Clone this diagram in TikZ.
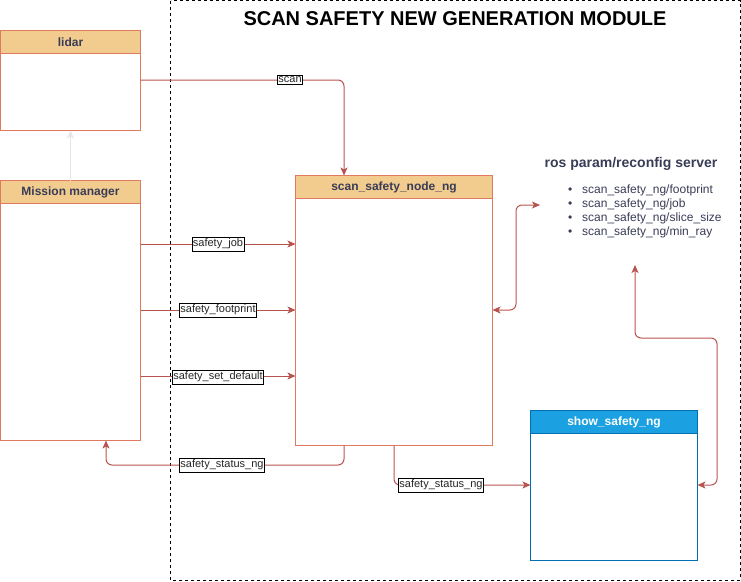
\documentclass[tikz,border=0pt]{standalone}
\usepackage{fontspec}
\setmainfont{Liberation Sans}
\usetikzlibrary{arrows.meta,calc}
\definecolor{hdrfill}{HTML}{F2CC8F}
\definecolor{hdrline}{HTML}{E07A5F}
\definecolor{hdrtext}{HTML}{393C56}
\definecolor{edgec}{HTML}{B85450}
\definecolor{bluefill}{HTML}{1BA1E2}
\definecolor{blueline}{HTML}{006EAF}
\definecolor{faint}{HTML}{E6E6E6}
\begin{document}
\begin{tikzpicture}[x=1pt,y=-1pt,
  body/.style={draw=hdrline, fill=white, line width=1pt, anchor=north west, inner sep=0pt, outer sep=0pt},
  hdr/.style={draw=hdrline, fill=hdrfill, line width=1pt, anchor=north west, inner sep=0pt, outer sep=0pt,
     minimum height=23pt, text=hdrtext, font=\fontsize{12}{14}\selectfont\bfseries},
  bluebody/.style={draw=blueline, fill=white, line width=1pt, anchor=north west, inner sep=0pt, outer sep=0pt},
  bluehdr/.style={draw=blueline, fill=bluefill, line width=1pt, anchor=north west, inner sep=0pt, outer sep=0pt,
     minimum height=23pt, text=white, font=\fontsize{12}{14}\selectfont\bfseries},
  lbl/.style={draw=black, fill=white, line width=0.8pt, inner xsep=1pt, inner ysep=1.8pt, font=\fontsize{11}{12}\selectfont, text=black!85},
  flow/.style={draw=edgec, line width=1pt, rounded corners=6pt, -{Stealth[length=8pt,width=7pt,inset=2pt]}},
  biflow/.style={draw=edgec, line width=1pt, rounded corners=6pt, {Stealth[length=8pt,width=7pt,inset=2pt]}-{Stealth[length=8pt,width=7pt,inset=2pt]}}
]
\useasboundingbox (0,0) rectangle (741,581);

% module frame
\draw[dashed, line width=0.8pt] (170.5,0.5) rectangle (740,580);
\node[font=\fontsize{20}{22}\selectfont\bfseries] (title) at (455,19) {SCAN SAFETY NEW GENERATION MODULE};

% lidar
\node[body, minimum width=140pt, minimum height=100pt] (lidar) at (0.5,30.5) {};
\node[hdr, minimum width=140pt] (lidarH) at (0.5,30.5) {lidar};

% Mission manager
\node[body, minimum width=140pt, minimum height=260pt] (mm) at (0.5,180.5) {};
\node[hdr, minimum width=140pt] (mmH) at (0.5,180.5) {Mission manager};

% scan_safety_node_ng
\node[body, minimum width=197pt, minimum height=270pt] (ssn) at (295.5,175.5) {};
\node[hdr, minimum width=197pt] (ssnH) at (295.5,175.5) {scan\_safety\_node\_ng};

% show_safety_ng
\node[bluebody, minimum width=167pt, minimum height=150pt] (show) at (530.5,410.5) {};
\node[bluehdr, minimum width=167pt] (showH) at (530.5,410.5) {show\_safety\_ng};

% ros param server
\node[font=\fontsize{14}{16}\selectfont\bfseries, text=hdrtext] (rosT) at (631,164) {ros param/reconfig server};
\node[anchor=north west, align=left, inner sep=0pt, text=hdrtext, font=\fontsize{12}{14}\selectfont] (rosL) at (566,185)
 {\makebox[16pt][l]{\hspace{2pt}•}scan\_safety\_ng/footprint\\
  \makebox[16pt][l]{\hspace{2pt}•}scan\_safety\_ng/job\\
  \makebox[16pt][l]{\hspace{2pt}•}scan\_safety\_ng/slice\_size\\
  \makebox[16pt][l]{\hspace{2pt}•}scan\_safety\_ng/min\_ray};
\coordinate (rosIn) at (540,205);
\coordinate (rosIn2) at (635,265);

% faint arrow mission manager -> lidar
\draw[draw=faint, line width=1pt, -{Stealth[length=8pt,width=7pt,inset=2pt]}] (mm.north) -- (lidar.south);

% scan
\draw[flow] (lidar.east |- 0,80) -- (344,80) -- (ssn.north -| 344,0);
\node[lbl] (lscan) at (290,80) {scan};

% mission manager -> scan safety node
\draw[flow] (140.5,244) -- (295.5,244);
\node[lbl] (ljob) at (218,244) {safety\_job};
\draw[flow] (140.5,310) -- (295.5,310);
\node[lbl] (lfp) at (218,310) {safety\_footprint};
\draw[flow] (140.5,376) -- (295.5,376);
\node[lbl] (lsd) at (218,377) {safety\_set\_default};

% status back to mission manager
\draw[flow] (344,445.5) -- (344,465) -- (106,465) -- (106,440.5);
\node[lbl] (lst1) at (222,465) {safety\_status\_ng};

% status to show_safety
\draw[flow] (394,445.5) -- (394,485) -- (530.5,485);
\node[lbl] (lst2) at (441,485) {safety\_status\_ng};

% bidirectional to ros params
\draw[biflow] (492.5,310) -- (516,310) -- (516,205) -- (rosIn);
\draw[biflow] (697.5,485) -- (717,485) -- (717,338) -- (635,338) -- (rosIn2);
\end{tikzpicture}
\end{document}
